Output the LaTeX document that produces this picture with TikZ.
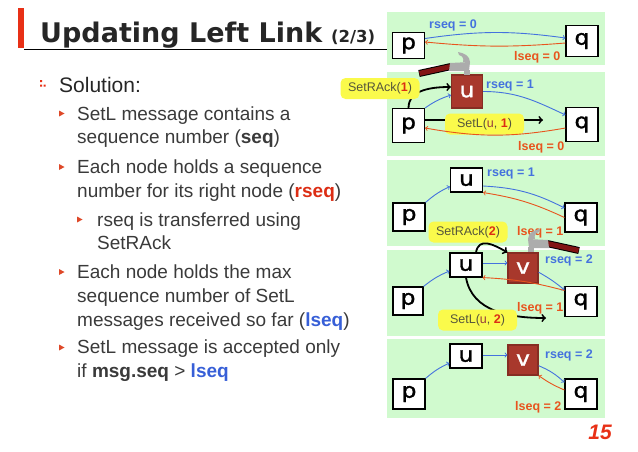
\documentclass[tikz,border=0pt]{standalone}
\usepackage{fontspec}
\usepackage{xcolor}
\usepackage{tikz}
\setmainfont{Liberation Sans}
\newfontfamily\verdanalike{DejaVu Sans}
\newfontfamily\boxletter[FakeStretch=1.12, FakeBold=1.3]{DejaVu Sans}
\usetikzlibrary{arrows, positioning}
\definecolor{titlered}{RGB}{232, 48, 22}
\definecolor{titlegray}{RGB}{38, 38, 38}
\definecolor{bodygray}{RGB}{58, 58, 58}
\definecolor{textred}{RGB}{220, 45, 20}
\definecolor{textblue}{RGB}{55, 95, 215}
\definecolor{panelgreen}{RGB}{208, 250, 206}
\definecolor{seqblue}{RGB}{68, 114, 222}
\definecolor{seqred}{RGB}{232, 84, 30}
\definecolor{brick}{RGB}{168, 56, 44}
\definecolor{tagyellow}{RGB}{250, 250, 75}
\definecolor{taggray}{RGB}{85, 85, 60}
\definecolor{ucolor}{RGB}{150, 60, 60}
\definecolor{handlered}{RGB}{130, 20, 20}
\definecolor{headgray}{RGB}{172, 172, 172}
\definecolor{bulletred}{RGB}{222, 72, 40}

\begin{document}
\begin{tikzpicture}[
    x=1pt, y=1pt,
    head/.style={anchor=base west, inner sep=0pt, text=titlegray, font=\verdanalike\bfseries\fontsize{27}{30}\selectfont},
    body/.style={anchor=base west, inner sep=0pt, text=bodygray, font=\fontsize{19}{22}\selectfont},
    box/.style={draw=black, line width=1.1pt, fill=white, minimum width=32pt, minimum height=30pt, inner sep=0pt, font=\boxletter\fontsize{21}{24}\selectfont},
    hot/.style={box, fill=brick, draw=brick!80!black, text=white, minimum width=31pt, minimum height=31pt},
    tag/.style={fill=tagyellow, rounded corners=5pt, minimum width=79pt, minimum height=21pt, inner sep=0pt, text=taggray, font=\fontsize{12.5}{14}\selectfont},
    rlabel/.style={anchor=west, inner sep=0pt, text=seqblue, font=\bfseries\fontsize{12.5}{14}\selectfont},
    llabel/.style={anchor=west, inner sep=0pt, text=seqred, font=\bfseries\fontsize{12.5}{14}\selectfont},
    rarrow/.style={->, draw=seqblue, line width=0.9pt},
    larrow/.style={->, draw=seqred, line width=0.9pt},
    msg/.style={->, draw=black, line width=1.8pt},
    hammer/.pic={
        \draw[black, line width=7pt] (-16,8.5) -- (-48,1.5);
        \draw[handlered, line width=5pt] (-16.5,8.4) -- (-47.5,1.6);
        \fill[headgray] (-3,0) rectangle (3,5);
        \fill[headgray] (-18,4) -- (2,4) -- (3,13) -- (-17,12) -- cycle;
        \fill[headgray] (3,13) .. controls (3,19) and (-3,22) .. (-9,23) -- (-8,20) .. controls (-4,19) and (-3,16) .. (-4,13) -- cycle;
    }
]
\useasboundingbox (0,0) rectangle (638,-451);

% title
\fill[titlered] (18,-8) rectangle (24,-48);
\node[head] (title) at (40,-42) {Updating Left Link};
\node[head, font=\verdanalike\bfseries\fontsize{16.5}{18}\selectfont] (part) at (331,-42) {(2/3)};
\draw[line width=1.4pt, black] (24,-49.5) -- (388,-49.5);

% bullet list
\fill[titlered] (40,-80) rectangle +(2.2,-2.2) (40,-84.5) rectangle +(2.2,-2.2) (43.5,-84.5) rectangle +(2.2,-2.2);
\foreach \y in {113.5, 167, 272, 347.5}
    \fill[bulletred] (59,-\y) ++(0,3) -- ++(5.5,-3) -- ++(-5.5,-3) -- cycle;
\fill[bulletred] (77,-219.5) ++(0,3) -- ++(5.5,-3) -- ++(-5.5,-3) -- cycle;
\node[body, text=titlegray, font=\fontsize{21}{24}\selectfont] (sol) at (59,-92.5) {Solution:};
\node[body] (i1a) at (77,-120) {SetL message contains a};
\node[body] (i1b) at (77,-143.5) {sequence number (\textbf{seq})};
\node[body] (i2a) at (77,-173.5) {Each node holds a sequence};
\node[body] (i2b) at (77,-197) {number for its right node (\textcolor{textred}{\textbf{rseq}})};
\node[body] (i3a) at (97,-226) {rseq is transferred using};
\node[body] (i3b) at (97,-249) {SetRAck};
\node[body] (i4a) at (77,-278.5) {Each node holds the max};
\node[body] (i4b) at (77,-302) {sequence number of SetL};
\node[body] (i4c) at (77,-326) {messages received so far (\textcolor{textblue}{\textbf{lseq}})};
\node[body] (i5a) at (77,-353.5) {SetL message is accepted only};
\node[body] (i5b) at (77,-377) {if \textbf{msg.seq} > \textcolor{textblue}{\textbf{lseq}}};

% panels
\fill[panelgreen] (387,-12) rectangle (605,-65);
\fill[panelgreen] (387,-72) rectangle (605,-156);
\fill[panelgreen] (387,-160) rectangle (605,-246);
\fill[panelgreen] (387,-250) rectangle (605,-336);
\fill[panelgreen] (387,-339) rectangle (605,-418);

% step 1
\node[box, minimum height=26pt] (p1) at (408.5,-45.5) {p};
\node[box, minimum height=31pt] (q1) at (582,-41) {q};
\draw[rarrow] ([yshift=7pt]p1.east) to[bend left=8] ([yshift=3pt]q1.west);
\draw[larrow] ([yshift=-2pt]q1.west) to[bend left=5] ([yshift=3.5pt]p1.east);
\node[rlabel] (r1) at (429,-25) {rseq = 0};
\node[llabel] (l1) at (514,-57) {lseq = 0};

% step 2
\node[hot, minimum height=33pt] (u2) at (467,-91.5) {u};
\node[box, minimum height=34pt] (p2) at (408.5,-125.5) {p};
\node[box, minimum height=34pt] (q2) at (582,-124.5) {q};
\coordinate (s2) at (543,-120);
\draw[msg] (p2.north) to[out=90, in=180] ([yshift=4.5pt]u2.west);
\node[tag] (a1) at (380,-88.5) {SetRAck(\textcolor{textred}{\textbf{1}})};
\draw[rarrow] (p2.north east) to[bend left=8] ([yshift=-3.5pt]u2.west);
\draw[rarrow] (u2.east) to[out=0, in=155] (q2.150);
\draw[msg] ([yshift=5.5pt]p2.east) -- (s2);
\node[tag] (m1) at (484.5,-124) {SetL(\textcolor{ucolor}{u}, \textcolor{textred}{\textbf{1}})};
\draw[larrow] ([yshift=-3.5pt]q2.west) to[bend left=10] ([yshift=-2.5pt]p2.east);
\node[rlabel] (r2) at (486,-85) {rseq = 1};
\node[llabel] (l2) at (518,-147) {lseq = 0};
\pic at (467,-75) {hammer};

% step 3
\node[box, minimum height=24pt] (u3) at (466.5,-180) {u};
\node[box, minimum height=28pt] (p3) at (409,-217) {p};
\node[box, minimum height=29pt] (q3) at (581,-217.5) {q};
\draw[rarrow] (p3.north east) to[bend left=8] ([yshift=-6.5pt]u3.west);
\draw[rarrow] ([yshift=-6pt]u3.east) to[bend left=12] (q3.150);
\draw[larrow] (q3.west) to[bend right=8] (u3.south east);
\node[rlabel] (r3) at (487,-173) {rseq = 1};
\node[llabel] (l3) at (517,-232) {lseq = 1};
\node[tag] (a2) at (468,-232) {SetRAck(\textcolor{textred}{\textbf{2}})};

% step 4
\node[box, minimum height=24pt] (u4) at (466,-265) {u};
\node[hot, minimum width=30pt, minimum height=30pt] (v4) at (523,-268) {v};
\node[box, minimum width=30pt, minimum height=28pt] (p4) at (408,-301) {p};
\node[box] (q4) at (581,-301.5) {q};
\coordinate (s4) at (546,-318);
\draw[msg] ([xshift=10pt]u4.north) to[out=80, in=150, looseness=1.3] (v4.north west);
\draw[rarrow] (p4.north east) to[bend left=8] ([yshift=-6pt]u4.west);
\draw[rarrow] ([yshift=2pt]u4.east) -- ([yshift=5pt]v4.west);
\draw[rarrow] (v4.-15) to[bend left=5] (q4.145);
\draw[larrow] ([yshift=11pt]q4.west) to[bend right=6] (u4.south east);
\draw[msg] (u4.south) to[out=-80, in=180] (s4);
\node[tag] (m2) at (477.5,-320) {SetL(\textcolor{ucolor}{u}, \textcolor{textred}{\textbf{2}})};
\node[rlabel] (r4) at (545,-260) {rseq = 2};
\node[llabel] (l4) at (517,-308) {lseq = 1};
\pic[xscale=-1] at (531,-252) {hammer};

% step 5
\node[box, minimum height=24pt] (u5) at (466,-356) {u};
\node[hot, minimum width=30pt, minimum height=30pt] (v5) at (523,-360) {v};
\node[box] (p5) at (409,-394) {p};
\node[box] (q5) at (581,-394) {q};
\draw[rarrow] (p5.north east) to[bend left=8] ([yshift=-7pt]u5.west);
\draw[rarrow] ([yshift=1pt]u5.east) -- ([yshift=5pt]v5.west);
\draw[rarrow] (v5.-20) to[bend left=10] (q5.145);
\draw[larrow] ([yshift=4pt]q5.west) to[bend left=6] (v5.south east);
\node[rlabel] (r5) at (545,-355) {rseq = 2};
\node[llabel] (l5) at (515,-407) {lseq = 2};

\node[text=titlered, font=\bfseries\itshape\fontsize{21}{24}\selectfont] (page) at (600,-432.5) {15};
\end{tikzpicture}
\end{document}
